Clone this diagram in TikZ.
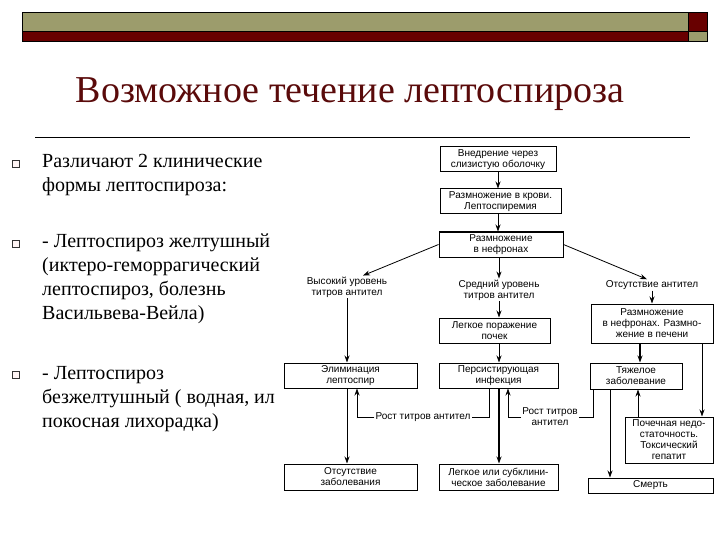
\documentclass[tikz,border=0pt]{standalone}
\usepackage{fontspec}
\setmainfont{Liberation Serif}
\newfontfamily\boxfont{Liberation Sans}
\usetikzlibrary{arrows.meta}
\definecolor{olivebar}{RGB}{156,156,108}
\definecolor{maroonbar}{RGB}{104,0,0}
\definecolor{titlered}{RGB}{90,10,10}

\begin{document}
\begin{tikzpicture}[x=1pt,y=-1pt,
  stage/.style={draw,line width=1pt,inner sep=0pt,align=center,font=\boxfont\fontsize{10}{11}\selectfont},
  tag/.style={inner sep=1pt,align=center,font=\boxfont\fontsize{10}{11}\selectfont},
  arr/.style={-{Stealth[length=7pt,width=5pt]},line width=0.8pt},
  bul/.style={draw=black!80,fill=red!4,line width=0.6pt,minimum size=7pt,inner sep=0pt},
  item/.style={anchor=north west,inner sep=0pt,align=left,font=\fontsize{20}{24}\selectfont}]
\useasboundingbox (0,0) rectangle (720,540);
\draw[fill=olivebar] (22,12) rectangle (688,31);
\draw[fill=maroonbar] (22,31) rectangle (688,41);
\draw[fill=maroonbar] (688,12) rectangle (707,31);
\draw[fill=olivebar] (688,31) rectangle (707,41);
\node[font=\fontsize{38}{40}\selectfont,text=titlered] (title) at (350,94) {Возможное течение лептоспироза};
\draw[line width=0.6pt] (35,137) -- (690,137);

\node[bul] (q1) at (16,164) {};
\node[item] (p1) at (42,154) {Различают 2 клинические\\формы лептоспироза:};
\node[bul] (q2) at (16,244) {};
\node[item] (p2) at (42,234) {- Лептоспироз желтушный\\(иктеро-геморрагический\\лептоспироз, болезнь\\Васильвева-Вейла)};
\node[bul] (q3) at (16,375) {};
\node[item] (p3) at (42,366) {- Лептоспироз\\безжелтушный ( водная, ил\\покосная лихорадка)};

\node[stage,minimum width=116pt,minimum height=25pt] (entry) at (498,159.5) {Внедрение через\\слизистую оболочку};
\node[stage,minimum width=121pt,minimum height=25pt] (blood) at (500.5,201.5) {Размножение в крови.\\Лептоспиремия};
\node[stage,minimum width=124pt,minimum height=25pt] (nephron) at (501,244.5) {Размножение\\в нефронах};
\node[tag] (high) at (347,287) {Высокий уровень\\титров антител};
\node[tag] (medium) at (499,290) {Средний уровень\\титров антител};
\node[tag] (absent) at (652,285) {Отсутствие антител};
\node[stage,minimum width=111pt,minimum height=25pt] (mild) at (494.5,330.5) {Легкое поражение\\почек};
\node[stage,minimum width=122pt,minimum height=39pt] (liver) at (652,323.5) {Размножение\\в нефронах. Размно-\\жение в печени};
\node[stage,minimum width=133pt,minimum height=25pt] (elim) at (350.5,375.5) {Элиминация\\лептоспир};
\node[stage,minimum width=119pt,minimum height=25pt] (persist) at (498.5,375.5) {Персистирующая\\инфекция};
\node[stage,minimum width=92pt,minimum height=26pt] (severe) at (636,376) {Тяжелое\\заболевание};
\node[stage,minimum width=88pt,minimum height=46pt] (renal) at (669,440) {Почечная недо-\\статочность.\\Токсический\\гепатит};
\node[tag] (rise1) at (423,417) {Рост титров антител};
\node[tag] (rise2) at (550,417) {Рост титров\\антител};
\node[stage,minimum width=133pt,minimum height=26pt] (healthy) at (350.5,477) {Отсутствие\\заболевания};
\node[stage,minimum width=119pt,minimum height=26pt] (subclin) at (498.5,477) {Легкое или субклини-\\ческое заболевание};
\node[stage,minimum width=125pt,minimum height=15pt] (death) at (650.5,485.5) {Смерть};

\draw[arr] (entry.south) -- (entry.south |- blood.north);
\draw[arr] (entry.south |- blood.south) -- (entry.south |- nephron.north);
\draw[arr] (nephron.west) -- ([xshift=16pt]high.north);
\draw[arr] (nephron.east) -- ([xshift=-5pt]absent.north);
\draw[arr] (medium.south |- nephron.south) -- (medium.north);
\draw[arr] (high.south) -- (high.south |- elim.north);
\draw[arr] (elim.south -| high.south) -- (high.south |- healthy.north);
\draw[arr] (medium.south) -- (medium.south |- mild.north);
\draw[arr] (medium.south |- mild.south) -- (medium.south |- persist.north);
\draw[arr,line width=1.3pt] (medium.south |- persist.south) -- (medium.south |- subclin.north);
\draw[arr] (absent.south) -- (absent.south |- liver.north);
\draw[arr,line width=1.3pt] ([xshift=4pt]severe.north |- liver.south) -- ([xshift=4pt]severe.north);
\draw[arr] ([xshift=50pt]liver.south) -- ([xshift=50pt]liver.south |- renal.north);
\draw[arr] ([xshift=-31pt]renal.north) -- ([xshift=-31pt]renal.north |- severe.south);
\draw[arr] ([xshift=-26pt]severe.south) -- ([xshift=-26pt]severe.south |- death.north);
\draw[line width=0.8pt] ([xshift=-9.5pt]persist.south) |- (rise1.east);
\draw[arr] (rise1.west) -| ([xshift=6.5pt]elim.south);
\draw[line width=0.8pt] ([xshift=-43pt]severe.south) |- (rise2.east);
\draw[arr] (rise2.west) -| ([xshift=9.5pt]persist.south);
\end{tikzpicture}
\end{document}
